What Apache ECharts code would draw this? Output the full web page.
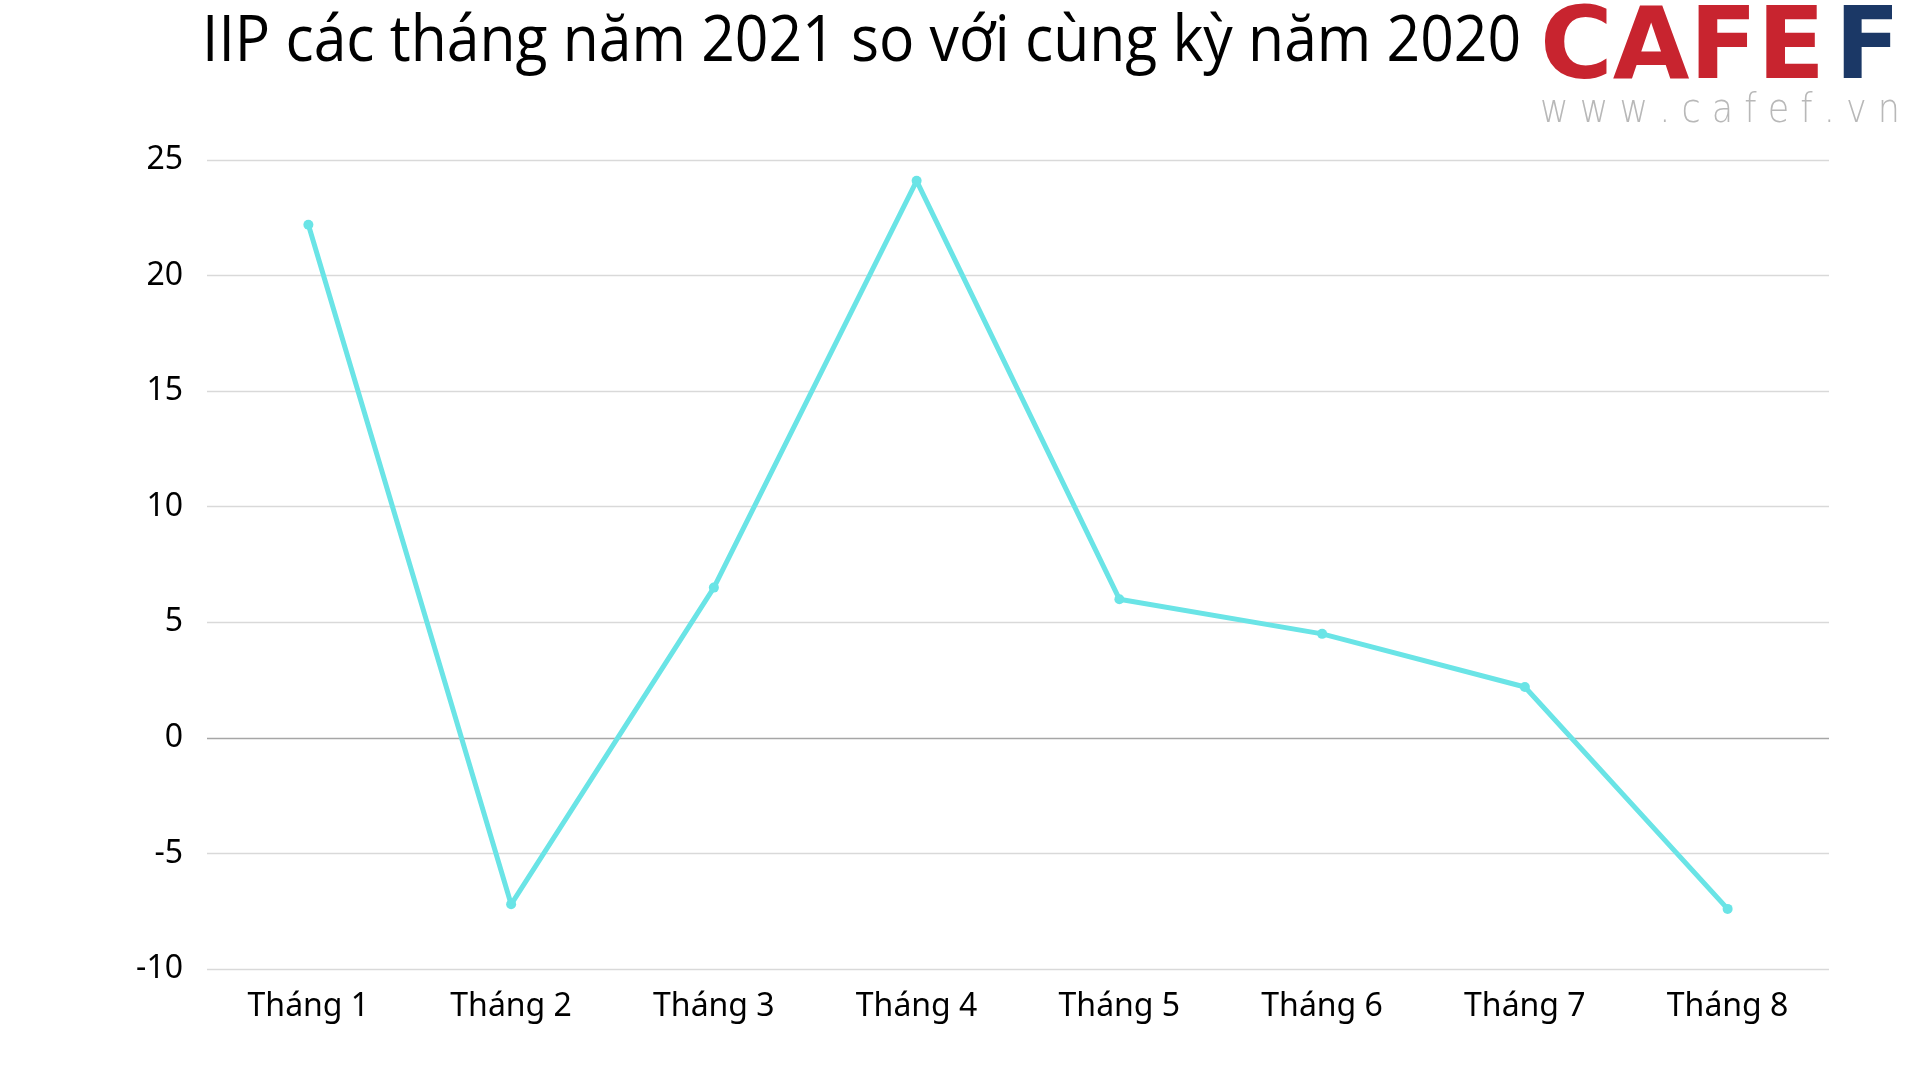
<!DOCTYPE html>
<html>
<head>
<meta charset="utf-8">
<script src="https://cdn.jsdelivr.net/npm/echarts@6/dist/echarts.min.js"></script>
<style>
html,body{margin:0;padding:0;background:#fff;}
#chart{width:1920px;height:1080px;}
</style>
</head>
<body>
<div id="chart"></div>
<script>
const titleText = 'IIP các tháng năm 2021 so với cùng kỳ năm 2020';
const categories = ['Tháng 1','Tháng 2','Tháng 3','Tháng 4','Tháng 5','Tháng 6','Tháng 7','Tháng 8'];
const iipValues = [22.2, -7.2, 6.5, 24.1, 6.0, 4.5, 2.2, -7.4];
const yTicks = [-10, -5, 0, 5, 10, 15, 20, 25];

const measureCtx = document.createElement('canvas').getContext('2d');
function fitScale(text, font, targetWidth) {
  measureCtx.font = font;
  const w = measureCtx.measureText(text).width;
  return w > 0 ? targetWidth / w : 1;
}

const titleFont = '64px "Open Sans"';
const logoFont = 'bold 99px "DejaVu Sans"';
const urlFont = '200 40px "DejaVu Sans"';
const urlText = 'w w w . c a f e f . v n';

const chart = echarts.init(document.getElementById('chart'), null, {renderer:'canvas'});
const gridColors = yTicks.map(v => v === 0 ? '#a6a6a6' : '#d9d9d9');

chart.setOption({
  backgroundColor: '#ffffff',
  animation: false,
  graphic: [
    {type:'text', x: 202, y: 11, scaleX: fitScale(titleText, titleFont, 1319),
      style:{text: titleText, fill:'#000', font: titleFont, verticalAlign:'top', align:'left'}},
    {type:'text', x: 1540, y: 3, scaleX: fitScale('CAFE', logoFont, 285),
      style:{text:'CAFE', fill:'#c8242f', font: logoFont, verticalAlign:'top', align:'left'}},
    {type:'text', x: 1835, y: 3, scaleX: fitScale('F', logoFont, 65),
      style:{text:'F', fill:'#1b3866', font: logoFont, verticalAlign:'top', align:'left'}},
    {type:'text', x: 1540, y: 92, scaleX: fitScale(urlText, urlFont, 360),
      style:{text: urlText, fill:'#b8b8b8', font: urlFont, verticalAlign:'top', align:'left'}}
  ],
  grid: {left: 207, right: 91, top: 160, bottom: 111, containLabel: false},
  xAxis: {
    type: 'category',
    data: categories,
    boundaryGap: true,
    axisLine: {show: false},
    axisTick: {show: false},
    axisLabel: {color: '#000', fontSize: 32, fontFamily: 'Noto Sans', margin: 22}
  },
  yAxis: {
    type: 'value',
    min: -10, max: 25, interval: 5,
    axisLine: {show: false},
    axisTick: {show: false},
    axisLabel: {color: '#000', fontSize: 32, fontFamily: 'Noto Sans', margin: 24, padding: [5, 0, 0, 0]},
    splitLine: {show: true, lineStyle: {color: gridColors, width: 1.3}}
  },
  series: [{
    type: 'line',
    data: iipValues,
    lineStyle: {color: '#6ae4e6', width: 5},
    itemStyle: {color: '#6ae4e6'},
    symbol: 'circle',
    symbolSize: 10,
    showSymbol: true
  }]
});
</script>
</body>
</html>
